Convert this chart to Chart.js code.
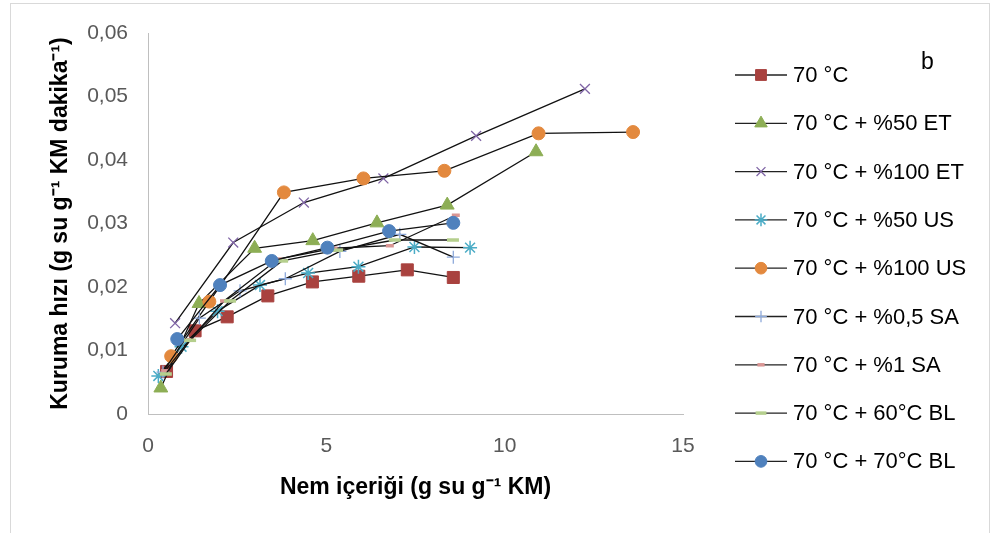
<!DOCTYPE html>
<html>
<head>
<meta charset="utf-8">
<script src="https://cdn.jsdelivr.net/npm/chart.js@4.4.1/dist/chart.umd.min.js"></script>
<style>
  html, body { margin: 0; padding: 0; background: #fff; }
  #wrap { position: relative; width: 996px; height: 533px; }
</style>
</head>
<body>
<div id="wrap"><canvas id="dryChart" width="996" height="533"></canvas></div>
<script>
// moisture content (x) and drying rate (y) for every series
const labels = ['70 °C', '70 °C + %50 ET', '70 °C + %100 ET', '70 °C + %50 US', '70 °C + %100 US',
                '70 °C + %0,5 SA', '70 °C + %1 SA', '70 °C + 60°C BL', '70 °C + 70°C BL'];

const x70 = [0.52, 1.32, 2.22, 3.36, 4.61, 5.91, 7.27, 8.56];
const y70 = [0.0067, 0.0131, 0.0153, 0.0186, 0.0208, 0.0217, 0.0227, 0.0215];

const xEt50 = [0.36, 1.43, 2.99, 4.62, 6.42, 8.39, 10.88];
const yEt50 = [0.0041, 0.0174, 0.0261, 0.0273, 0.0301, 0.0329, 0.0413];

const xEt100 = [0.76, 2.39, 4.37, 6.60, 9.20, 12.25];
const yEt100 = [0.0143, 0.0270, 0.0333, 0.0371, 0.0438, 0.0512];

const xUs50 = [0.29, 0.94, 1.95, 3.14, 4.49, 5.90, 7.47, 9.03];
const yUs50 = [0.0060, 0.0106, 0.0162, 0.0203, 0.0222, 0.0232, 0.0263, 0.0262];

const xUs100 = [0.65, 1.72, 3.81, 6.04, 8.31, 10.95, 13.60];
const yUs100 = [0.0091, 0.0177, 0.0349, 0.0371, 0.0383, 0.0442, 0.0444];

const xSa05 = [0.42, 1.44, 2.58, 3.85, 5.38, 7.06, 8.56];
const ySa05 = [0.0066, 0.0151, 0.0194, 0.0213, 0.0256, 0.0283, 0.0247];

const xSa1 = [0.48, 1.18, 2.13, 3.65, 5.20, 6.78, 8.63];
const ySa1 = [0.0068, 0.0117, 0.0178, 0.0244, 0.0261, 0.0265, 0.0313];

const xBl60 = [0.50, 1.18, 2.30, 3.76, 5.30, 6.92, 8.55];
const yBl60 = [0.0063, 0.0116, 0.0178, 0.0241, 0.0258, 0.0274, 0.0274];

const xBl70 = [0.82, 2.02, 3.47, 5.03, 6.76, 8.56];
const yBl70 = [0.0118, 0.0203, 0.0241, 0.0262, 0.0288, 0.0301];

const xTicks = [0, 5, 10, 15];
const yTicks = [0, 0.01, 0.02, 0.03, 0.04, 0.05, 0.06];

const seriesX = [x70, xEt50, xEt100, xUs50, xUs100, xSa05, xSa1, xBl60, xBl70];
const seriesY = [y70, yEt50, yEt100, yUs50, yUs100, ySa05, ySa1, yBl60, yBl70];

// marker look per series (excel style)
const markers = [
  { style: 'rect',     radius: 8.5, color: '#A9423F', border: 1 },
  { style: 'triangle', radius: 8,   color: '#8DAE55', border: 1 },
  { style: 'crossRot', radius: 7,   color: '#7F64A5', border: 1.3 },
  { style: 'star',     radius: 7,   color: '#4BACC6', border: 1.5 },
  { style: 'circle',   radius: 6.5, color: '#E3893E', border: 1 },
  { style: 'cross',    radius: 6.5, color: '#8EAADB', border: 1.3 },
  { style: 'line',     radius: 4,   color: '#D99694', border: 3.5 },
  { style: 'line',     radius: 6,   color: '#B5CF8D', border: 3.5 },
  { style: 'circle',   radius: 6.5, color: '#4F81BD', border: 1 }
];

const datasets = labels.map((name, i) => ({
  label: name,
  data: seriesX[i].map((x, j) => ({ x: x, y: seriesY[i][j] })),
  showLine: true,
  borderColor: '#111',
  borderWidth: 1.3,
  tension: 0,
  order: labels.length - i,
  pointStyle: markers[i].style,
  pointRadius: markers[i].radius,
  pointBackgroundColor: markers[i].color,
  pointBorderColor: markers[i].color,
  pointBorderWidth: markers[i].border
}));

const FONT = 'Liberation Sans, Arial, sans-serif';

const excelLegend = {
  id: 'excelLegend',
  beforeDraw(chart) {
    const { ctx } = chart;
    ctx.save();
    ctx.strokeStyle = '#D9D9D9';
    ctx.lineWidth = 1;
    ctx.strokeRect(10.5, 3.5, 979, 560);
    ctx.restore();
  },
  afterDraw(chart) {
    const { ctx } = chart;
    ctx.save();
    ctx.font = '22px ' + FONT;
    ctx.textBaseline = 'middle';
    ctx.textAlign = 'left';
    labels.forEach((name, i) => {
      const y = 75 + i * 48.3;
      ctx.beginPath();
      ctx.strokeStyle = '#222';
      ctx.lineWidth = 1.3;
      ctx.moveTo(735, y);
      ctx.lineTo(787, y);
      ctx.stroke();

      const m = markers[i];
      ctx.fillStyle = m.color;
      ctx.strokeStyle = m.color;
      ctx.lineWidth = m.border;
      Chart.helpers.drawPoint(ctx, { pointStyle: m.style, radius: m.radius * 0.9, borderWidth: m.border, rotation: 0 }, 761, y);

      ctx.fillStyle = '#000';
      ctx.fillText(name, 793, y + 1);
    });
    // panel letter
    ctx.font = '23px ' + FONT;
    ctx.fillText('b', 921, 63);
    ctx.restore();
  }
};

const chart = new Chart(document.getElementById('dryChart').getContext('2d'), {
  type: 'scatter',
  data: { datasets: datasets },
  options: {
    responsive: false,
    animation: false,
    layout: { padding: { left: 10, top: 33, right: 313, bottom: 0 } },
    plugins: {
      legend: { display: false },
      tooltip: { enabled: false }
    },
    scales: {
      x: {
        type: 'linear',
        min: 0,
        max: 15,
        afterBuildTicks(scale) { scale.ticks = xTicks.map(v => ({ value: v })); },
        afterFit(scale) { scale.height = 119; },
        ticks: { color: '#595959', font: { size: 21, family: FONT }, padding: 20 },
        grid: { display: false, drawTicks: false },
        border: { display: true, color: '#BFBFBF', width: 1 },
        title: {
          display: true,
          text: 'Nem içeriği (g su g⁻¹ KM)',
          color: '#000',
          font: { size: 23, weight: 'bold', family: FONT },
          padding: { top: 0, bottom: 32 }
        }
      },
      y: {
        min: 0,
        max: 0.06,
        afterBuildTicks(scale) { scale.ticks = yTicks.map(v => ({ value: v })); },
        afterFit(scale) { scale.width = 138; },
        ticks: {
          color: '#595959',
          font: { size: 21, family: FONT },
          padding: 20,
          callback: function(value) {
            return value === 0 ? '0' : value.toFixed(2).replace('.', ',');
          }
        },
        grid: { display: false, drawTicks: false },
        border: { display: true, color: '#BFBFBF', width: 1 },
        title: {
          display: true,
          text: 'Kuruma hızı (g su g⁻¹ KM dakika⁻¹)',
          color: '#000',
          font: { size: 23, weight: 'bold', family: FONT },
          padding: { top: 37, bottom: 0 }
        }
      }
    }
  },
  plugins: [excelLegend]
});
</script>
</body>
</html>
